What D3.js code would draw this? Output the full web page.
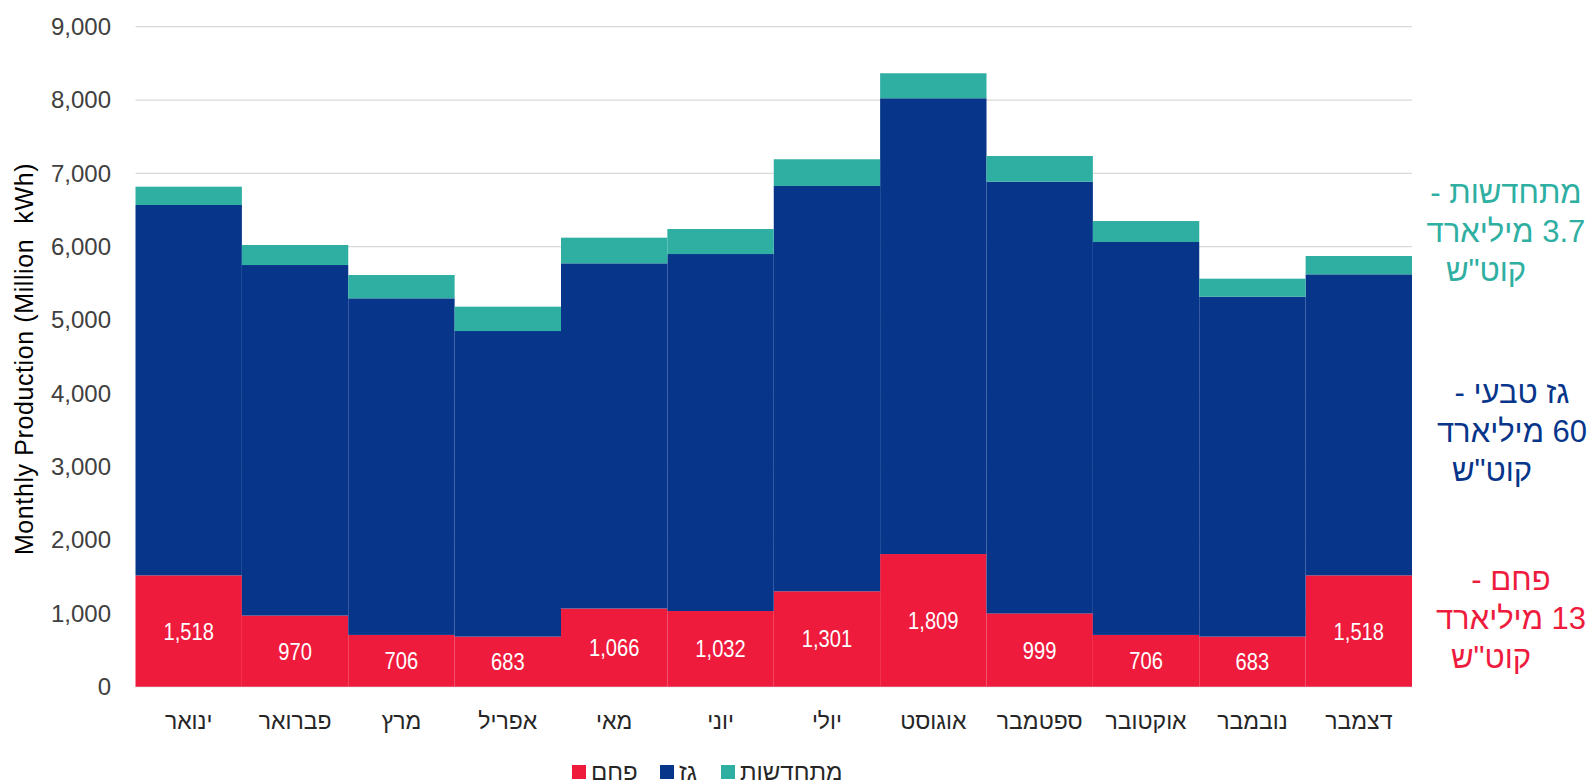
<!DOCTYPE html>
<html><head><meta charset="utf-8">
<script src="https://cdn.jsdelivr.net/npm/d3@7"></script>
<style>
html,body{margin:0;padding:0;background:#fff;}
#wrap{position:relative;width:1592px;height:784px;}
svg{display:block;}
text{font-family:"Liberation Sans",Arial,"DejaVu Sans",sans-serif;}
.note{position:absolute;width:220px;text-align:center;font-family:"Liberation Sans",Arial,"DejaVu Sans",sans-serif;font-size:31px;line-height:39px;white-space:nowrap;direction:rtl;unicode-bidi:isolate;}
</style></head>
<body>
<div id="wrap"><svg id="chart" width="1592" height="784"></svg></div>
<script>
const months = ["ינואר","פברואר","מרץ","אפריל","מאי","יוני","יולי","אוגוסט","ספטמבר","אוקטובר","נובמבר","דצמבר"];
const coal = [1518,970,706,683,1066,1032,1301,1809,999,706,683,1518];
const gas = [5051,4780,4590,4167,4707,4868,5527,6215,5888,5358,4635,4105];
const renewables = [249,273,318,332,350,341,364,341,350,286,246,250];
const seriesNames = ["פחם","גז","מתחדשות"];
const seriesColors = ["#EE1B3D","#06358A","#2EAFA2"];
const yTicks = [0,1000,2000,3000,4000,5000,6000,7000,8000,9000];
const yTitle = "Monthly Production (Million  kWh)";
const notes = [
  ["מתחדשות -","3.7 מיליארד","קוט\"ש"],
  ["גז טבעי -","60 מיליארד","קוט\"ש"],
  ["פחם -","13 מיליארד","קוט\"ש"]
];
const noteColors = ["#2EAFA2","#06358A","#EE1B3D"];

const svg = d3.select("#chart");
const L = 135.5, R = 1412, T = 26.7, B = 686.7;

const x = d3.scaleBand().domain(months).range([L,R]).paddingInner(0).paddingOuter(0);
const y = d3.scaleLinear().domain([0,9000]).range([B,T]);

// gridlines
svg.append("g").selectAll("line").data(yTicks).join("line")
  .attr("x1",L).attr("x2",R)
  .attr("y1",d=>y(d)).attr("y2",d=>y(d))
  .attr("stroke","#d9d9d9").attr("stroke-width",1.2);

// y axis labels
const yAxis = d3.axisLeft(y).tickValues(yTicks).tickFormat(d3.format(",")).tickSize(0).tickPadding(0);
const gy = svg.append("g").attr("transform",`translate(111,0)`).call(yAxis);
gy.select(".domain").remove();
gy.selectAll("text").attr("font-size",24).attr("fill","#404040")
  .style("font-family",'"Liberation Sans",Arial,sans-serif');

// stacked data
const data = months.map((m,i)=>({month:m, coal:coal[i], gas:gas[i], ren:renewables[i]}));
const stack = d3.stack().keys(["coal","gas","ren"])(data);

svg.append("g").selectAll("g").data(stack).join("g")
  .attr("fill",(d,i)=>seriesColors[i])
  .selectAll("rect").data(d=>d).join("rect")
  .attr("x",d=>x(d.data.month))
  .attr("width",x.bandwidth())
  .attr("y",d=>y(d[1]))
  .attr("height",d=>y(d[0])-y(d[1]));

// coal labels
svg.append("g").selectAll("text").data(data).join("text")
  .attr("transform",d=>`translate(${x(d.month)+x.bandwidth()/2},${(y(d.coal)+y(0))/2+8.5}) scale(0.84,1)`)
  .attr("text-anchor","middle")
  .attr("font-size",24)
  .attr("fill","#fff")
  .text(d=>d3.format(",")(d.coal));

// x labels
svg.append("g").selectAll("text").data(months).join("text")
  .attr("transform",d=>`translate(${x(d)+x.bandwidth()/2},729)`)
  .attr("text-anchor","middle")
  .attr("font-size",23)
  .attr("fill","#262626")
  .text(d=>d);

// y title
svg.append("text")
  .attr("transform","translate(33,359) rotate(-90)")
  .attr("text-anchor","middle")
  .attr("font-size",25)
  .attr("letter-spacing",0.6)
  .attr("fill","#000")
  .style("white-space","pre")
  .text(yTitle);

// legend
const legX = [572,660,721];
const lg = svg.append("g");
seriesNames.forEach((n,i)=>{
  lg.append("rect").attr("x",legX[i]).attr("y",765).attr("width",14).attr("height",14).attr("fill",seriesColors[i]);
  lg.append("text").attr("x",legX[i]+19).attr("y",780).attr("font-size",24).attr("fill","#262626").text(n);
});

// right annotations (RTL paragraphs)
const noteBase = [203,403,590];
const noteCx = [1506,1512,1511];
const wrap = d3.select("#wrap");
notes.forEach((lines,g)=>{
  lines.forEach((t,k)=>{
    const cx = k===2 ? noteCx[g]-20 : noteCx[g];
    wrap.append("div").attr("class","note").attr("dir","rtl")
      .style("left",(cx-110)+"px")
      .style("top",(noteBase[g]+k*39-30.3)+"px")
      .style("color",noteColors[g])
      .text(t);
  });
});
</script>
</body></html>
